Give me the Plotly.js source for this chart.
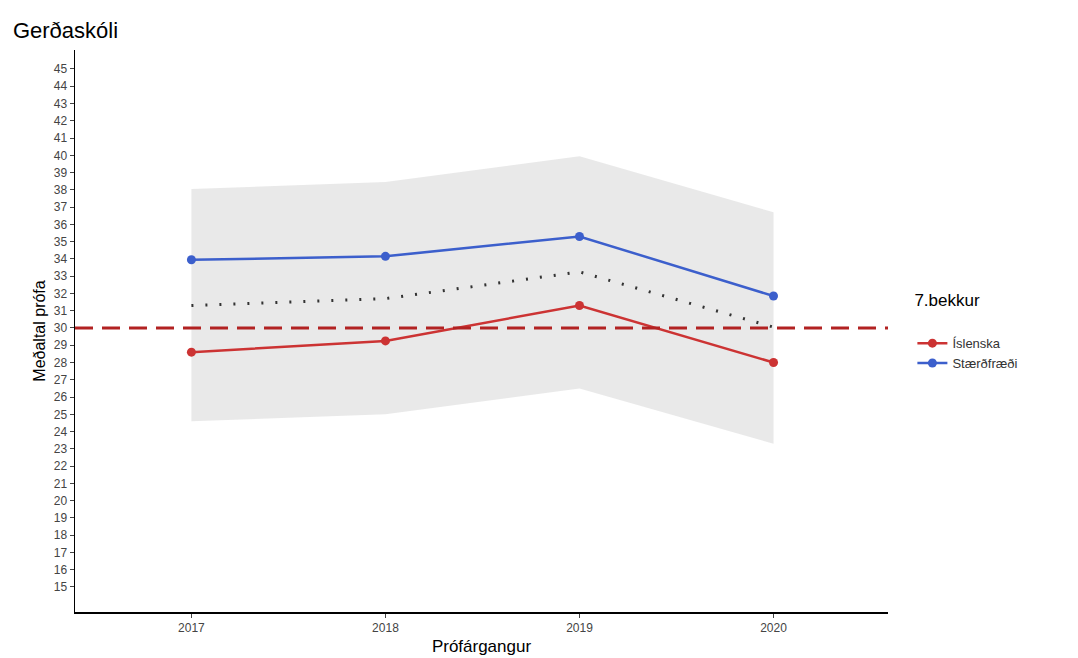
<!DOCTYPE html>
<html>
<head>
<meta charset="utf-8">
<script src="https://cdn.plot.ly/plotly-3.0.1.min.js"></script>
<style>body{margin:0;background:#fff}#chart{width:1078px;height:658px}</style>
</head>
<body>
<div id="chart"></div>
<script>
const years = [2017, 2018, 2019, 2020];
const islenska = [28.6, 29.25, 31.3, 28.0];
const staerdfraedi = [33.95, 34.15, 35.3, 31.85];
const average = [31.3, 31.7, 33.25, 30.05];
const bandUpper = [38.05, 38.45, 39.95, 36.7];
const bandLower = [24.6, 25.0, 26.5, 23.3];
const reference = 30;

const traces = [
    {x: years, y: bandLower, mode: 'lines', line: {width: 0}, showlegend: false, hoverinfo: 'skip'},
    {x: years, y: bandUpper, mode: 'lines', line: {width: 0}, fill: 'tonexty',
     fillcolor: 'rgba(200,200,200,0.4)', showlegend: false, hoverinfo: 'skip'},
    {x: years, y: average, mode: 'lines', line: {color: '#333', width: 3, dash: '2px,12px'}, showlegend: false},
    {x: years, y: islenska, name: 'Íslenska', mode: 'lines+markers',
     line: {color: '#cc3333', width: 2.5}, marker: {size: 9, color: '#cc3333'}},
    {x: years, y: staerdfraedi, name: 'Stærðfræði', mode: 'lines+markers',
     line: {color: '#3c5fcc', width: 2.5}, marker: {size: 9, color: '#3c5fcc'}}
];

const ticks = [];
for (let v = 15; v <= 45; v++) ticks.push(v);

const layout = {
    width: 1078, height: 658,
    paper_bgcolor: '#fff', plot_bgcolor: '#fff',
    margin: {l: 75, r: 190, t: 50, b: 46},
    font: {family: 'Liberation Sans, Arial, sans-serif', color: '#333'},
    title: {text: 'Gerðaskóli', x: 0.012, xanchor: 'left', y: 0.965, font: {size: 22, color: '#000'}},
    xaxis: {
        range: [2016.4, 2020.59], tickvals: years, ticks: 'outside', ticklen: 4,
        showgrid: false, zeroline: false, showline: true, linecolor: '#000', linewidth: 1.5,
        tickfont: {size: 12, color: '#444'},
        title: {text: 'Prófárgangur', font: {size: 17, color: '#000'}, standoff: 6}
    },
    yaxis: {
        range: [13.55, 46.1], tickvals: ticks, ticks: 'outside', ticklen: 4,
        showgrid: false, zeroline: false, showline: true, linecolor: '#000', linewidth: 1.5,
        tickfont: {size: 12, color: '#444'},
        title: {text: 'Meðaltal prófa', font: {size: 16, color: '#000'}, standoff: 4}
    },
    shapes: [{type: 'line', xref: 'paper', x0: 0, x1: 1, y0: reference, y1: reference,
              line: {color: '#b22222', width: 3, dash: '18px,9px'}}],
    legend: {
        x: 1.03, y: 0.5, yanchor: 'middle', traceorder: 'normal',
        title: {text: '7.bekkur<br>', font: {size: 17, color: '#000'}},
        font: {size: 13}
    },
    showlegend: true
};

Plotly.newPlot('chart', traces, layout, {displayModeBar: false, staticPlot: true});
</script>
</body>
</html>
